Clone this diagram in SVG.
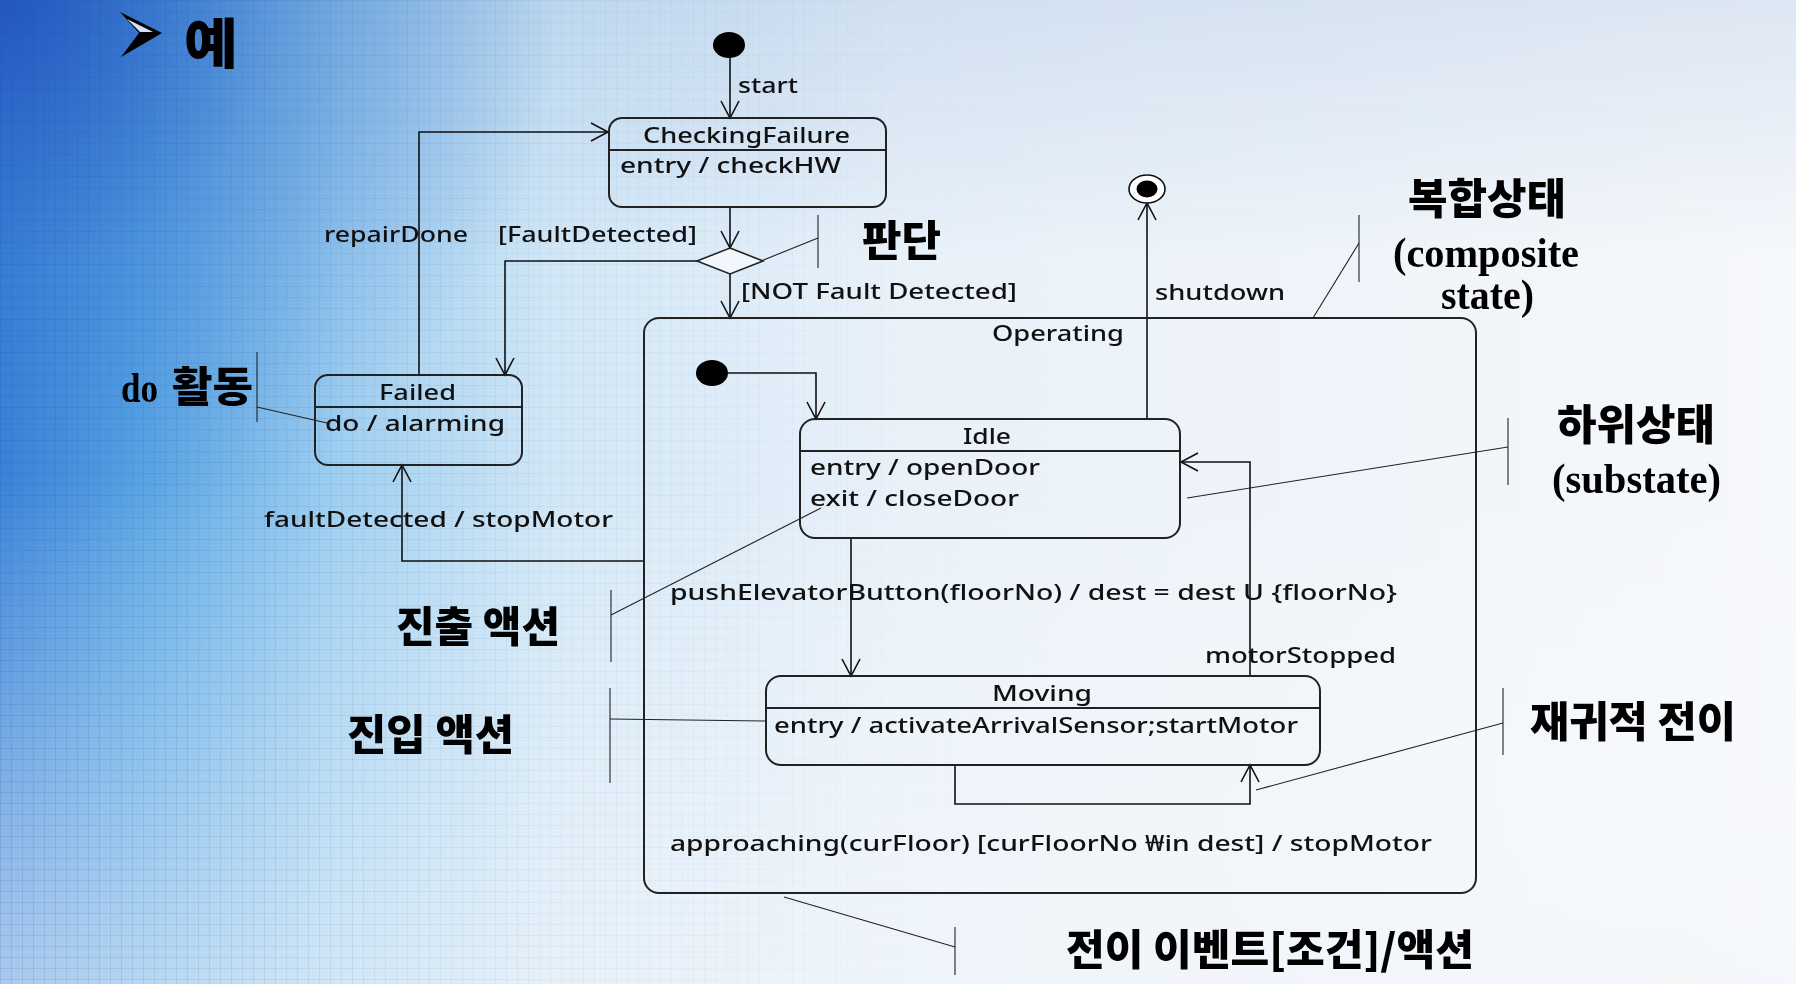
<svg xmlns="http://www.w3.org/2000/svg" width="1796" height="984" viewBox="0 0 1796 984">
<defs>
  <linearGradient id="bgH" gradientUnits="userSpaceOnUse" x1="0" y1="0" x2="1796" y2="0">
    <stop offset="0" stop-color="#3b84d9"/>
    <stop offset="0.08" stop-color="#5ba7e4"/>
    <stop offset="0.19" stop-color="#9fcff0"/>
    <stop offset="0.31" stop-color="#d2e7f6"/>
    <stop offset="0.5" stop-color="#e9f1f9"/>
    <stop offset="1" stop-color="#f6f8fb"/>
  </linearGradient>
  <radialGradient id="corner" gradientUnits="userSpaceOnUse" cx="0" cy="0" r="560">
    <stop offset="0" stop-color="#2458c4" stop-opacity="0.9"/>
    <stop offset="0.5" stop-color="#2f6fd0" stop-opacity="0.35"/>
    <stop offset="1" stop-color="#2f6fd0" stop-opacity="0"/>
  </radialGradient>
  <linearGradient id="bottomFade" gradientUnits="userSpaceOnUse" x1="0" y1="480" x2="0" y2="984">
    <stop offset="0" stop-color="#ffffff" stop-opacity="0"/>
    <stop offset="1" stop-color="#f4f7fb" stop-opacity="0.6"/>
  </linearGradient>
  <linearGradient id="topTint" x1="0" y1="0" x2="0" y2="1">
    <stop offset="0" stop-color="#e6eef7" stop-opacity="1"/>
    <stop offset="1" stop-color="#e6eef7" stop-opacity="0"/>
  </linearGradient>
  <linearGradient id="fade" x1="0" y1="0" x2="1" y2="0">
    <stop offset="0" stop-color="#fff" stop-opacity="1"/>
    <stop offset="0.35" stop-color="#fff" stop-opacity="0.3"/>
    <stop offset="0.6" stop-color="#fff" stop-opacity="0"/>
  </linearGradient>
  <pattern id="grid" width="11" height="11" patternUnits="userSpaceOnUse">
    <path d="M0,0.5 H11 M0.5,0 V11" stroke="#1c4f9a" stroke-width="1" fill="none" opacity="0.12"/>
  </pattern>
  <mask id="gm">
    <rect width="1796" height="984" fill="url(#fade)"/>
  </mask>
  <marker id="arr" markerUnits="userSpaceOnUse" markerWidth="24" markerHeight="24" viewBox="-20 -12 24 24" refX="0" refY="0" orient="auto">
    <path d="M-17,-9 L0,0 L-17,9" fill="none" stroke="#111" stroke-width="1.6"/>
  </marker>
  <style>
    .t{font-family:"Noto Sans","DejaVu Sans",sans-serif;font-size:22px;font-weight:500;fill:#111}
    .k{font-family:"Noto Sans CJK KR",sans-serif;font-weight:900;font-size:42px;fill:#000}
    .s{font-family:"Liberation Serif",serif;font-weight:bold;font-size:42px;fill:#000}
    .box{fill:none;stroke:#222;stroke-width:2}
    .div{stroke:#222;stroke-width:2}
    .c{fill:none;stroke:#111;stroke-width:1.6}
    .a{fill:none;stroke:#222;stroke-width:1.1}
  </style>
</defs>

<g id="background">
  <rect width="1796" height="984" fill="url(#bgH)"/>
  <rect width="1796" height="984" fill="url(#corner)"/>
  <rect width="1796" height="984" fill="url(#bottomFade)"/>
  <rect width="1796" height="260" fill="url(#topTint)" style="mix-blend-mode:multiply"/>
  <rect width="1796" height="984" fill="url(#grid)" mask="url(#gm)"/>
</g>

<g id="title">
  <polygon points="120,12 162,33 121,57 139,33" fill="#000"/>
  <polygon points="127,19 153,32 140,32" fill="#cfe3f5"/>
  <text x="184" y="64" font-family="'Noto Sans CJK KR',sans-serif" font-weight="900" font-size="54" textLength="54" lengthAdjust="spacingAndGlyphs">예</text>
</g>

<g id="connectors">
  <line class="c" x1="730" y1="58" x2="730" y2="118" marker-end="url(#arr)"/>
  <line class="c" x1="730" y1="207" x2="730" y2="248" marker-end="url(#arr)"/>
  <polyline class="c" points="697,261 505,261 505,375" marker-end="url(#arr)"/>
  <line class="c" x1="730" y1="274" x2="730" y2="318" marker-end="url(#arr)"/>
  <polyline class="c" points="419,375 419,132 608,132" marker-end="url(#arr)"/>
  <polyline class="c" points="644,561 402,561 402,465" marker-end="url(#arr)"/>
  <polyline class="c" points="728,373 816,373 816,419" marker-end="url(#arr)"/>
  <line class="c" x1="1147" y1="419" x2="1147" y2="203" marker-end="url(#arr)"/>
  <line class="c" x1="851" y1="538" x2="851" y2="676" marker-end="url(#arr)"/>
  <polyline class="c" points="1250,676 1250,462 1181,462" marker-end="url(#arr)"/>
  <polyline class="c" points="955,765 955,804 1250,804 1250,765" marker-end="url(#arr)"/>
</g>

<g id="labels">
  <text class="t" x="738" y="93" textLength="60" lengthAdjust="spacingAndGlyphs">start</text>
  <text class="t" x="324" y="242" textLength="144" lengthAdjust="spacingAndGlyphs">repairDone</text>
  <text class="t" x="498" y="242" textLength="199" lengthAdjust="spacingAndGlyphs">[FaultDetected]</text>
  <text class="t" x="741" y="299" textLength="276" lengthAdjust="spacingAndGlyphs">[NOT Fault Detected]</text>
  <text class="t" x="1155" y="300" textLength="130" lengthAdjust="spacingAndGlyphs">shutdown</text>
  <text class="t" x="264" y="527" textLength="349" lengthAdjust="spacingAndGlyphs">faultDetected / stopMotor</text>
  <text class="t" x="670" y="600" textLength="727" lengthAdjust="spacingAndGlyphs">pushElevatorButton(floorNo) / dest = dest U {floorNo}</text>
  <text class="t" x="1205" y="663" textLength="191" lengthAdjust="spacingAndGlyphs">motorStopped</text>
  <text class="t" x="670" y="851" textLength="762" lengthAdjust="spacingAndGlyphs">approaching(curFloor) [curFloorNo ₩in dest] / stopMotor</text>
</g>

<g id="initial">
  <ellipse cx="729" cy="45" rx="16" ry="13" fill="#000"/>
</g>

<g id="CheckingFailure">
  <rect class="box" x="609" y="118" width="277" height="89" rx="13" ry="13"/>
  <line class="div" x1="609" y1="150" x2="886" y2="150"/>
  <text class="t" x="643" y="143" textLength="207" lengthAdjust="spacingAndGlyphs">CheckingFailure</text>
  <text class="t" x="620" y="173" textLength="221" lengthAdjust="spacingAndGlyphs">entry / checkHW</text>
</g>

<g id="decision">
  <polygon points="730,248 763,261 730,274 697,261" fill="#fff" fill-opacity="0.6" stroke="#222" stroke-width="1.6"/>
</g>

<g id="Failed">
  <rect class="box" x="315" y="375" width="207" height="90" rx="13" ry="13"/>
  <line class="div" x1="315" y1="407" x2="522" y2="407"/>
  <text class="t" x="379" y="400" textLength="77" lengthAdjust="spacingAndGlyphs">Failed</text>
  <text class="t" x="325" y="431" textLength="180" lengthAdjust="spacingAndGlyphs">do / alarming</text>
</g>

<g id="Operating">
  <rect class="box" x="644" y="318" width="832" height="575" rx="15" ry="15"/>
  <text class="t" x="992" y="341" textLength="132" lengthAdjust="spacingAndGlyphs">Operating</text>
</g>

<g id="initial-inner">
  <ellipse cx="712" cy="373" rx="16" ry="13" fill="#000"/>
</g>

<g id="final">
  <ellipse cx="1147" cy="189" rx="18" ry="14" fill="#fff" stroke="#111" stroke-width="1.6"/>
  <ellipse cx="1147" cy="189" rx="10.5" ry="8.5" fill="#000"/>
</g>

<g id="Idle">
  <rect class="box" x="800" y="419" width="380" height="119" rx="15" ry="15"/>
  <line class="div" x1="800" y1="451" x2="1180" y2="451"/>
  <text class="t" x="963" y="444" textLength="48" lengthAdjust="spacingAndGlyphs">Idle</text>
  <text class="t" x="810" y="475" textLength="230" lengthAdjust="spacingAndGlyphs">entry / openDoor</text>
  <text class="t" x="810" y="506" textLength="209" lengthAdjust="spacingAndGlyphs">exit / closeDoor</text>
</g>

<g id="Moving">
  <rect class="box" x="766" y="676" width="554" height="89" rx="15" ry="15"/>
  <line class="div" x1="766" y1="708" x2="1320" y2="708"/>
  <text class="t" x="992" y="701" textLength="100" lengthAdjust="spacingAndGlyphs">Moving</text>
  <text class="t" x="774" y="733" textLength="524" lengthAdjust="spacingAndGlyphs">entry / activateArrivalSensor;startMotor</text>
</g>

<g id="annotations">
  <line class="a" x1="818" y1="215" x2="818" y2="268"/>
  <line class="a" x1="818" y1="238" x2="761" y2="261"/>
  <text class="k" x="862" y="256" textLength="79" lengthAdjust="spacingAndGlyphs">판단</text>

  <line class="a" x1="1359" y1="215" x2="1359" y2="282"/>
  <line class="a" x1="1359" y1="243" x2="1313" y2="318"/>
  <text class="k" x="1408" y="214" textLength="158" lengthAdjust="spacingAndGlyphs">복합상태</text>
  <text class="s" x="1393" y="267" textLength="186" lengthAdjust="spacingAndGlyphs">(composite</text>
  <text class="s" x="1441" y="309" textLength="93" lengthAdjust="spacingAndGlyphs">state)</text>

  <line class="a" x1="257" y1="352" x2="257" y2="422"/>
  <line class="a" x1="257" y1="407" x2="327" y2="423"/>
  <text x="121" y="402"><tspan class="s" textLength="37" lengthAdjust="spacingAndGlyphs">do</tspan><tspan class="k" x="172" textLength="81" lengthAdjust="spacingAndGlyphs">활동</tspan></text>

  <line class="a" x1="1508" y1="418" x2="1508" y2="485"/>
  <line class="a" x1="1508" y1="447" x2="1187" y2="498"/>
  <text class="k" x="1557" y="440" textLength="158" lengthAdjust="spacingAndGlyphs">하위상태</text>
  <text class="s" x="1552" y="493" textLength="169" lengthAdjust="spacingAndGlyphs">(substate)</text>

  <line class="a" x1="611" y1="590" x2="611" y2="662"/>
  <line class="a" x1="611" y1="615" x2="821" y2="508"/>
  <text class="k" x="396" y="642" textLength="164" lengthAdjust="spacingAndGlyphs">진출 액션</text>

  <line class="a" x1="610" y1="688" x2="610" y2="783"/>
  <line class="a" x1="610" y1="719" x2="766" y2="721"/>
  <text class="k" x="347" y="750" textLength="167" lengthAdjust="spacingAndGlyphs">진입 액션</text>

  <line class="a" x1="1503" y1="688" x2="1503" y2="755"/>
  <line class="a" x1="1503" y1="723" x2="1256" y2="790"/>
  <text class="k" x="1530" y="737" textLength="206" lengthAdjust="spacingAndGlyphs">재귀적 전이</text>

  <line class="a" x1="955" y1="927" x2="955" y2="975"/>
  <line class="a" x1="955" y1="947" x2="784" y2="897"/>
  <text class="k" x="1066" y="965" textLength="408" lengthAdjust="spacingAndGlyphs">전이 이벤트[조건]/액션</text>
</g>
</svg>
